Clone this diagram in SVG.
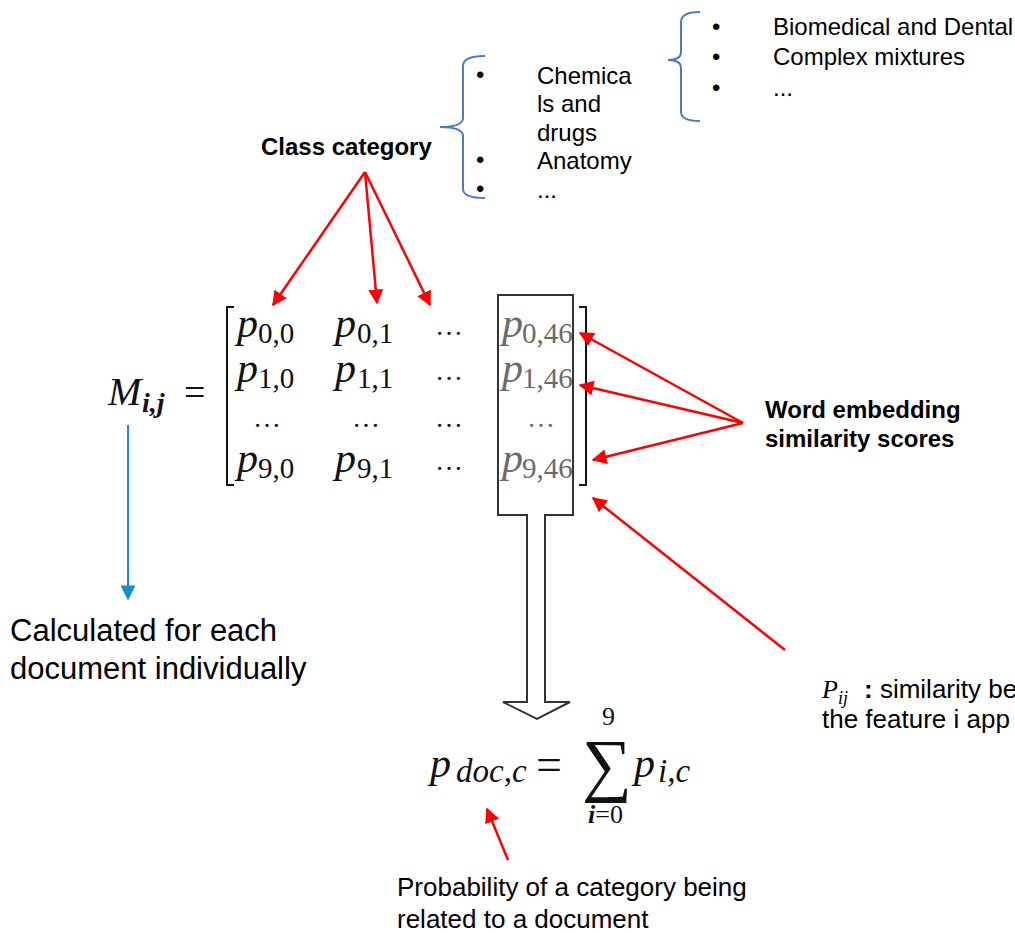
<svg xmlns="http://www.w3.org/2000/svg" width="1015" height="933" viewBox="0 0 1015 933">
<style>
.t{font-family:"Liberation Sans",Arial,sans-serif;font-size:24px;fill:#000}
.b{font-weight:bold}
.m{font-family:"Liberation Serif","Times New Roman",serif;fill:#111}
.i{font-style:italic}
.g{fill:#6b6b6b}
.brace{fill:none;stroke:#4a7ebb;stroke-width:2}
.red{stroke:#ff0000;stroke-width:2.5;fill:none;marker-end:url(#rh)}
.blue{stroke:#1f8ad2;stroke-width:2;fill:none;marker-end:url(#bh)}
.brk{fill:none;stroke:#111;stroke-width:2}
</style>
<defs>
<marker id="rh" viewBox="0 0 10 10" refX="9" refY="5" markerWidth="6" markerHeight="6" orient="auto" markerUnits="strokeWidth"><path d="M0,0 L10,5 L0,10 z" fill="#ff0000"/></marker>
<marker id="bh" viewBox="0 0 10 10" refX="9" refY="5" markerWidth="8" markerHeight="7.5" orient="auto" markerUnits="strokeWidth"><path d="M0,0 L10,5 L0,10 z" fill="#1f8ad2"/></marker>
</defs>
<rect width="1015" height="933" fill="#fff"/>

<g id="list-top">
<path class="brace" d="M700,12 Q681,12 681,22 L681,52 Q681,60 668,60 Q681,60 681,68 L681,112 Q681,121 700,121"/>
<text class="t" x="712" y="35">•</text>
<text class="t" x="712" y="65">•</text>
<text class="t" x="712" y="96">•</text>
<text class="t" x="773" y="35">Biomedical and Dental</text>
<text class="t" x="773" y="65">Complex mixtures</text>
<text class="t" x="773" y="96">...</text>
</g>

<g id="list-class">
<path class="brace" d="M485,56 Q463,56 463,66 L463,118 Q463,127 440,127 Q463,127 463,136 L463,189 Q463,198 485,198"/>
<text class="t" x="476" y="83">•</text>
<text class="t" x="476" y="168">•</text>
<text class="t" x="476" y="197">•</text>
<text class="t" x="537" y="84">Chemica</text>
<text class="t" x="537" y="112">ls and</text>
<text class="t" x="537" y="141">drugs</text>
<text class="t" x="537" y="169">Anatomy</text>
<text class="t" x="537" y="198">...</text>
</g>

<g id="label-class">
<text class="t b" x="261" y="155">Class category</text>
</g>

<g id="label-word">
<text class="t b" x="765" y="418">Word embedding</text>
<text class="t b" x="765" y="447">similarity scores</text>
</g>

<g id="matrix">
<text class="m i" x="108" y="405" font-size="40">M</text>
<text class="m i b" x="142" y="412" font-size="28">i,j</text>
<text class="m" x="184" y="405" font-size="38">=</text>
<path class="brk" d="M234,307 L227,307 L227,485 L234,485"/>
<path class="brk" d="M579,307 L586,307 L586,485 L579,485"/>
<g class="m i" font-size="42">
<text x="237" y="337">p</text>
<text x="335" y="337">p</text>
<text x="237" y="382">p</text>
<text x="335" y="382">p</text>
<text x="237" y="472">p</text>
<text x="335" y="472">p</text>
<text class="g" x="502" y="337">p</text>
<text class="g" x="502" y="382">p</text>
<text class="g" x="502" y="472">p</text>
</g>
<g class="m" font-size="29">
<text x="258" y="343">0,0</text>
<text x="357" y="343">0,1</text>
<text x="258" y="388">1,0</text>
<text x="357" y="388">1,1</text>
<text x="258" y="478">9,0</text>
<text x="357" y="478">9,1</text>
<text class="g" x="522" y="343">0,46</text>
<text class="g" x="522" y="388">1,46</text>
<text class="g" x="522" y="478">9,46</text>
<text x="435" y="335" font-size="28">…</text>
<text x="435" y="380" font-size="28">…</text>
<text x="435" y="470" font-size="28">…</text>
<text x="253" y="427" font-size="28">…</text>
<text x="352" y="427" font-size="28">…</text>
<text x="435" y="427" font-size="28">…</text>
<text class="g" x="527" y="427" font-size="28">…</text>
</g>
</g>

<g id="block-arrow">
<path d="M498,295 L573,295 L573,515 L545,515 L545,702 L570,702 L537,719 L503,702 L527,702 L527,515 L498,515 Z" fill="none" stroke="#333" stroke-width="2"/>
</g>

<g id="formula">
<text class="m i" x="430" y="777" font-size="42">p</text>
<text class="m i" x="456" y="782" font-size="33">doc,c</text>
<text class="m" x="536" y="780" font-size="46">=</text>
<text class="m" x="582" y="788" font-size="70">∑</text>
<text class="m" x="602" y="725" font-size="26">9</text>
<text class="m" x="588" y="823" font-size="26"><tspan class="i b">i</tspan>=0</text>
<text class="m i" x="634" y="777" font-size="42">p</text>
<text class="m i" x="658" y="782" font-size="33">i,c</text>
</g>

<g id="label-calc">
<text class="t" x="10" y="641" style="font-size:31px">Calculated for each</text>
<text class="t" x="10" y="679" style="font-size:31px">document individually</text>
</g>

<g id="label-pij">
<text class="m i" x="822" y="698" style="font-size:26px;fill:#000">P</text>
<text class="m i" x="838" y="704" style="font-size:18px;fill:#000">ij</text>
<text class="t" x="864" y="698" style="font-size:26px"><tspan class="b">:</tspan> similarity be</text>
<text class="t" x="822" y="728" style="font-size:26px">the feature i app</text>
</g>

<g id="label-prob">
<text class="t" x="397" y="896" style="font-size:26px">Probability of a category being</text>
<text class="t" x="397" y="928" style="font-size:26px">related to a document</text>
</g>

<g id="connectors">
<line class="red" x1="365" y1="172" x2="273" y2="305"/>
<line class="red" x1="365" y1="172" x2="377" y2="303"/>
<line class="red" x1="365" y1="172" x2="430" y2="305"/>
<line class="red" x1="743" y1="423" x2="580" y2="333"/>
<line class="red" x1="743" y1="423" x2="580" y2="385"/>
<line class="red" x1="743" y1="423" x2="593" y2="460"/>
<line class="red" x1="785" y1="650" x2="593" y2="498"/>
<line class="red" x1="508" y1="860" x2="487" y2="809"/>
<line class="blue" x1="128" y1="425" x2="128" y2="599"/>
</g>
</svg>
